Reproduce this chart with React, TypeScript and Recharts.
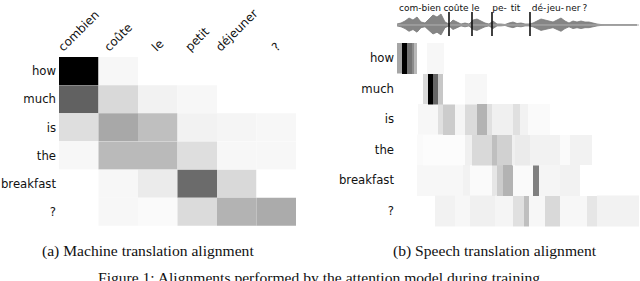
import React from "react";
import { BarChart, Bar, Cell, XAxis, YAxis, AreaChart, Area, ReferenceLine } from "recharts";

// ---- Machine translation alignment (left) ----
const mtSource = ["combien", "coûte", "le", "petit", "déjeuner", "?"];
const mtTarget = ["how", "much", "is", "the", "breakfast", "?"];
const mtWeights = [
  [1.0, 0.03, 0.0, 0.0, 0.0, 0.0],
  [0.62, 0.15, 0.05, 0.03, 0.0, 0.0],
  [0.13, 0.34, 0.25, 0.05, 0.04, 0.03],
  [0.03, 0.27, 0.27, 0.13, 0.03, 0.03],
  [0.0, 0.03, 0.08, 0.58, 0.15, 0.0],
  [0.0, 0.03, 0.02, 0.14, 0.3, 0.33],
];

// ---- Speech translation alignment (right) ----
const stTarget = ["how", "much", "is", "the", "breakfast", "?"];
// segments per target word: [startFrame, endFrame, weight]
const stHow = [[0, 5, 0.35], [5, 10, 1.0], [10, 15, 0.55], [15, 17, 0.45], [17, 20, 0.28], [30, 47, 0.03]];
const stMuch = [[26, 31, 0.15], [31, 36, 1.0], [36, 41, 0.6], [41, 46, 0.22], [68, 90, 0.03]];
const stIs = [[21, 41, 0.03], [41, 46, 0.12], [46, 58, 0.2], [58, 68, 0.04], [68, 80, 0.14], [80, 90, 0.3], [90, 95, 0.12], [95, 116, 0.06], [116, 123, 0.12], [123, 131, 0.05], [131, 153, 0.02]];
const stThe = [[20, 26, 0.02], [26, 68, 0.01], [68, 75, 0.06], [75, 95, 0.15], [95, 100, 0.25], [100, 115, 0.18], [115, 118, 0.06], [118, 133, 0.08], [133, 163, 0.05], [163, 173, 0.02], [173, 195, 0.05]];
const stBreakfast = [[20, 66, 0.03], [66, 73, 0.05], [73, 95, 0.02], [95, 100, 0.1], [100, 106, 0.2], [106, 116, 0.3], [116, 136, 0.02], [136, 142, 0.5], [142, 163, 0.04], [163, 183, 0.05]];
const stQ = [[38, 58, 0.05], [58, 73, 0.03], [73, 98, 0.06], [98, 116, 0.04], [116, 127, 0.12], [127, 132, 0.25], [132, 148, 0.03], [148, 163, 0.15], [163, 190, 0.03], [190, 200, 0.1], [200, 242, 0.05]];
const stSegments = [stHow, stMuch, stIs, stThe, stBreakfast, stQ];
const stFrames = 242;

// ---- waveform ----
const waveFrames = [0, 4, 8, 12, 16, 20, 24, 28, 32, 36, 40, 44, 48, 52, 56, 60, 64, 68, 72, 76, 80, 84, 88, 92, 96, 100, 104, 108, 112, 116, 120, 124, 128, 132, 136, 140, 144, 148, 152, 156, 160, 164, 168, 172, 176, 180, 184, 188, 192, 196, 200, 204, 208, 212, 216, 220, 224, 228, 232, 236, 240];
const waveAmp = [1, 2, 4, 7, 5, 8, 3, 2, 6, 10, 8, 11, 3, 1, 5, 3, 1, 2, 1, 5, 6, 4, 2, 1, 4, 1, 1, 0.5, 2, 3, 1.5, 2, 1, 1, 2, 4, 6, 5, 4, 3, 5, 7, 4, 2, 4, 3, 4, 3, 3, 2, 1, 0.5, 0.4, 0.4, 0.4, 0.4, 0.4, 0.4, 0.4, 0.4, 0.4];
const syllables = ["com-bien", "coûte", "le", "pe-", "tit", "dé-", "jeu-", "ner", "?"];
const syllableCenters = [23, 59, 78.5, 102.5, 118.5, 142, 158.5, 176, 188];
const wordBoundaries = [52, 75, 95, 133];

const grey = (v: number) => {
  const c = Math.round(255 * (1 - v));
  return `rgb(${c},${c},${c})`;
};

const SANS = '"DejaVu Sans", sans-serif';

// build tables
const mtData = mtTarget.map((row) => {
  const o: any = { row };
  mtSource.forEach((_, j) => (o["c" + j] = 1));
  return o;
});

const stRows = stSegments.map((segs) => {
  const out: { w: number; v: number }[] = [];
  let pos = 0;
  segs.forEach(([s, e, v]) => {
    if (s > pos) out.push({ w: s - pos, v: 0 });
    out.push({ w: e - s, v });
    pos = e;
  });
  if (pos < stFrames) out.push({ w: stFrames - pos, v: 0 });
  return out;
});
const stMax = Math.max(...stRows.map((r) => r.length));
const stData = stTarget.map((row, i) => {
  const o: any = { row };
  for (let k = 0; k < stMax; k++) o["s" + k] = stRows[i][k] ? stRows[i][k].w : 0;
  return o;
});

const waveData = waveFrames.map((f, i) => ({ f, r: [-waveAmp[i] * 0.9, waveAmp[i]] }));

let measureCtx: CanvasRenderingContext2D | null = null;
const measure = (t: string, font: string) => {
  if (!measureCtx) measureCtx = document.createElement("canvas").getContext("2d");
  measureCtx!.font = font;
  return measureCtx!.measureText(t).width;
};

const SourceTick = (props: any) => {
  const { x, index } = props;
  const label = mtSource[index];
  const L = measure(label, "12px DejaVu Sans");
  const sx = x - 0.354 * (L - 8);
  const sy = 52;
  return (
    <text x={sx} y={sy} transform={`rotate(-45 ${sx} ${sy})`} fontSize={12} fontFamily={SANS} fill="#111">
      {label}
    </text>
  );
};

const SyllableTick = (props: any) => {
  const { x, index } = props;
  return (
    <text x={x} y={11} textAnchor="middle" fontSize={9} fontFamily={SANS} fill="#111">
      {syllables[index]}
    </text>
  );
};

export default function App() {
  return (
    <div style={{ position: "absolute", left: 0, top: 0, width: 640, height: 281, background: "#fff", overflow: "hidden" }}>
      <div style={{ position: "absolute", left: 0, top: 0 }}>
        <BarChart width={300} height={230} data={mtData} layout="vertical" barCategoryGap={0} barGap={0}
          margin={{ top: 0, right: 4, left: 0, bottom: 4 }}>
          <XAxis type="number" orientation="top" domain={[0, 6]} ticks={[0.5, 1.5, 2.5, 3.5, 4.5, 5.5]}
            height={57} axisLine={false} tickLine={false} tick={<SourceTick />} interval={0} />
          <YAxis type="category" dataKey="row" width={59} axisLine={false} tickLine={false} tickSize={0} tickMargin={3}
            tick={{ fontSize: 11.7, fontFamily: SANS, fill: "#111" }} interval={0} />
          {mtSource.map((_, j) => (
            <Bar key={j} dataKey={"c" + j} stackId="a" isAnimationActive={false}>
              {mtData.map((_, i) => (
                <Cell key={i} fill={grey(mtWeights[i][j])} />
              ))}
            </Bar>
          ))}
        </BarChart>
      </div>
      <div style={{ position: "absolute", left: 320, top: 0 }}>
        <AreaChart width={320} height={40} data={waveData} margin={{ top: 0, right: 1, left: 0, bottom: 4 }}>
          <XAxis type="number" dataKey="f" orientation="top" domain={[0, stFrames]} ticks={syllableCenters}
            height={12} axisLine={false} tickLine={false} tick={<SyllableTick />} interval={0} />
          <YAxis type="number" domain={[-11, 13]} width={77} axisLine={false} tickLine={false} tick={false} />
          <ReferenceLine y={0} stroke="#b0b0b0" strokeWidth={1} />
          <Area dataKey="r" type="linear" stroke="#7a7a7a" strokeWidth={0.8} fill="#858585" fillOpacity={1} isAnimationActive={false} />
          {wordBoundaries.map((b) => (
            <ReferenceLine key={b} x={b} stroke="#111" strokeWidth={1.6} />
          ))}
        </AreaChart>
      </div>
      <div style={{ position: "absolute", left: 320, top: 40 }}>
        <BarChart width={320} height={190} data={stData} layout="vertical" barCategoryGap={0} barGap={0}
          margin={{ top: 3, right: 1, left: 0, bottom: 4 }}>
          <XAxis type="number" domain={[0, stFrames]} hide />
          <YAxis type="category" dataKey="row" width={77} axisLine={false} tickLine={false} tickSize={0} tickMargin={3}
            tick={{ fontSize: 11.7, fontFamily: SANS, fill: "#111" }} interval={0} />
          {Array.from({ length: stMax }).map((_, k) => (
            <Bar key={k} dataKey={"s" + k} stackId="a" isAnimationActive={false}>
              {stData.map((_, i) => (
                <Cell key={i} fill={grey(stRows[i][k] ? stRows[i][k].v : 0)} />
              ))}
            </Bar>
          ))}
        </BarChart>
      </div>
      <svg width={640} height={281} style={{ position: "absolute", left: 0, top: 0, pointerEvents: "none" }}>
        <g fontFamily='"Liberation Serif", serif' fontSize={15.6} fill="#111">
          <text x={42} y={256}>(a) Machine translation alignment</text>
          <text x={393} y={256}>(b) Speech translation alignment</text>
          <text x={321} y={283} textAnchor="middle">Figure 1: Alignments performed by the attention model during training.</text>
        </g>
      </svg>
    </div>
  );
}
